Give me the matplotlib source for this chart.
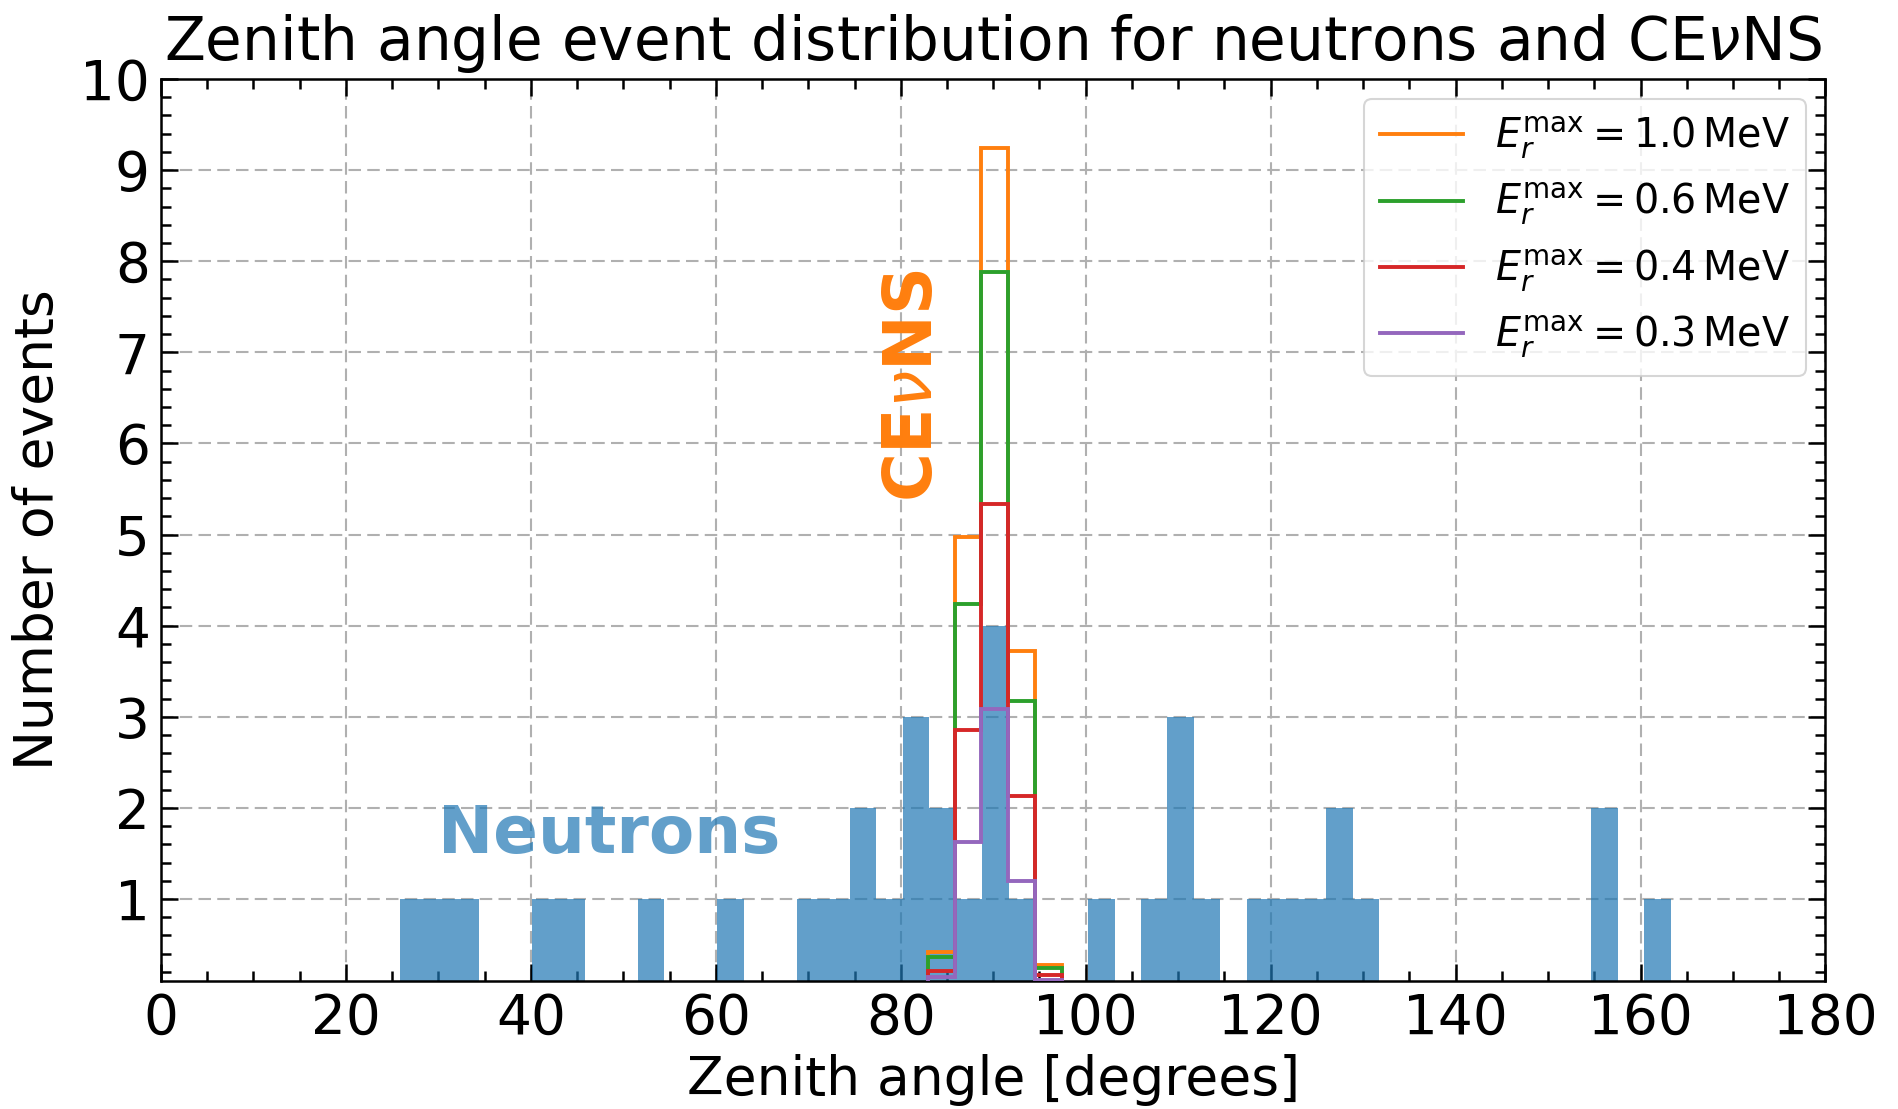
import numpy as np
import matplotlib
matplotlib.use("Agg")
import matplotlib.pyplot as plt
from matplotlib.lines import Line2D
from matplotlib.ticker import MultipleLocator

# ---------------- data ----------------
# Neutron histogram: 48 equal bins between the min and max zenith angle
neutron_edge_min = 25.82
neutron_edge_max = 163.24
neutron_counts = [1, 1, 1, 0, 0, 1, 1, 0, 0, 1, 0, 0, 1, 0, 0, 1,
                  1, 2, 1, 3, 2, 1, 4, 1, 0, 0, 1, 0, 1, 3, 1, 0,
                  1, 1, 1, 2, 1, 0, 0, 0, 0, 0, 0, 0, 0, 2, 0, 1]

# CEvNS histograms: 5 equal bins
cevns_edge_min = 82.93
cevns_edge_max = 97.42
cevns_labels = [r"$E_r^{\mathrm{max}} = 1.0\,\mathrm{MeV}$",
                r"$E_r^{\mathrm{max}} = 0.6\,\mathrm{MeV}$",
                r"$E_r^{\mathrm{max}} = 0.4\,\mathrm{MeV}$",
                r"$E_r^{\mathrm{max}} = 0.3\,\mathrm{MeV}$"]
cevns_1p0 = [0.415, 4.97, 9.24, 3.72, 0.276]
cevns_0p6 = [0.36, 4.24, 7.88, 3.17, 0.24]
cevns_0p4 = [0.214, 2.86, 5.33, 2.13, 0.166]
cevns_0p3 = [0.14, 1.63, 3.08, 1.20, 0.11]
cevns_colors = ["#ff7f0e", "#2ca02c", "#d62728", "#9467bd"]

xticks = [0, 20, 40, 60, 80, 100, 120, 140, 160, 180]
yticks = [1, 2, 3, 4, 5, 6, 7, 8, 9, 10]

# ---------------- plot ----------------
W, H, DPI = 1898, 1109, 100
fig = plt.figure(figsize=(W / DPI, H / DPI), dpi=DPI)
ax = fig.add_axes([0.0848, 0.1154, 0.9618 - 0.0848, 0.9288 - 0.1154])

n_edges = np.linspace(neutron_edge_min, neutron_edge_max, len(neutron_counts) + 1)
n_centers = 0.5 * (n_edges[:-1] + n_edges[1:])
ax.hist(n_centers, bins=n_edges, weights=neutron_counts, histtype="stepfilled",
        color="#1f77b4", alpha=0.7, linewidth=0, zorder=2)

c_edges = np.linspace(cevns_edge_min, cevns_edge_max, len(cevns_1p0) + 1)
handles = []
for vals, col, lab in zip([cevns_1p0, cevns_0p6, cevns_0p4, cevns_0p3],
                          cevns_colors, cevns_labels):
    ax.stairs(vals, c_edges, baseline=0, color=col, linewidth=2.8, zorder=3)
    handles.append(Line2D([], [], color=col, linewidth=2.8, label=lab))

ax.text(30, 1.5, "Neutrons", color="#1f77b4", alpha=0.7, fontsize=47.5,
        fontweight="bold", zorder=4)
ax.text(77.8, 5.36, r"CE$\nu$NS", color="#ff7f0e", fontsize=48,
        fontweight="bold", rotation=90, ha="left", va="bottom", zorder=4)

ax.set_xlim(0, 180)
ax.set_ylim(0.1, 10)
ax.set_xticks(xticks)
ax.set_yticks(yticks)
ax.xaxis.set_minor_locator(MultipleLocator(5))
ax.yaxis.set_minor_locator(MultipleLocator(0.2))
ax.tick_params(which="both", direction="in", top=True, right=True,
               width=1.8, labelsize=39.5, pad=8)
ax.tick_params(which="major", length=12)
ax.tick_params(which="minor", length=7)
for s in ax.spines.values():
    s.set_linewidth(1.8)

ax.grid(True, which="major", linestyle=(0, (6, 3)), linewidth=1.5,
        color="#b0b0b0", zorder=0)
ax.set_axisbelow(True)

ax.set_xlabel("Zenith angle [degrees]", fontsize=38.5, labelpad=6)
ax.set_ylabel("Number of events", fontsize=38.5, labelpad=12)
ax.set_title(r"Zenith angle event distribution for neutrons and CE$\nu$NS",
             fontsize=43, pad=14)

leg = ax.legend(handles=handles, loc="upper right", fontsize=28.5,
                handlelength=2.1, frameon=True, fancybox=True,
                edgecolor="#cccccc", framealpha=0.8, borderaxespad=0.5)
leg.get_frame().set_linewidth(1.5)

fig.savefig("out.png", dpi=DPI)
